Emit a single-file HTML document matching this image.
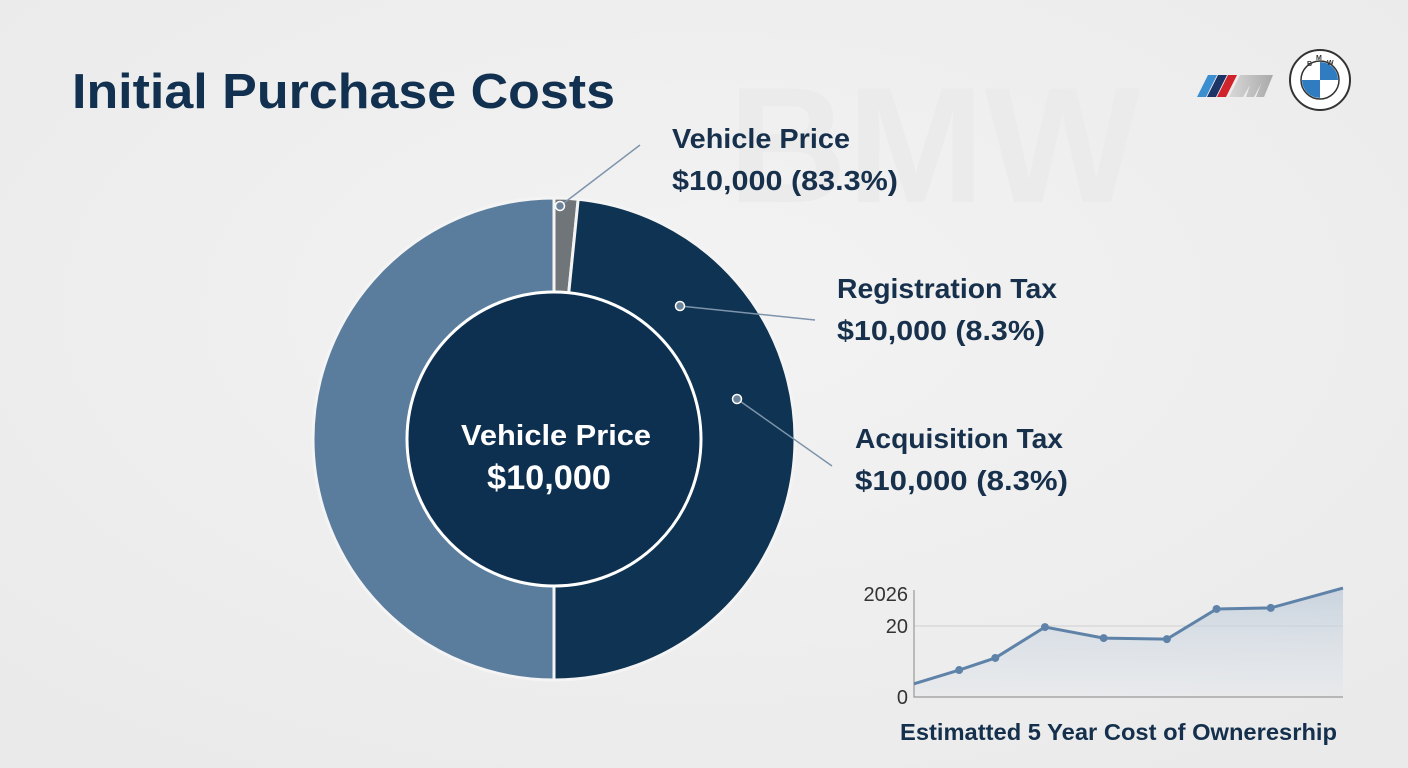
<!DOCTYPE html>
<html><head><meta charset="utf-8"><style>
html,body{margin:0;padding:0;background:#efefef;}
svg{display:block;font-family:"Liberation Sans",Arial,sans-serif;}
</style></head><body>
<svg id="chart" width="1408" height="768" viewBox="0 0 1408 768">
<defs>
<radialGradient id="bg" cx="0.5" cy="0.4" r="0.8"><stop offset="0" stop-color="#f3f3f3"/><stop offset="1" stop-color="#e9e9e9"/></radialGradient>
<linearGradient id="area" x1="0" y1="0" x2="0" y2="1"><stop offset="0" stop-color="#b9c8d8" stop-opacity="0.7"/><stop offset="1" stop-color="#dfe5ec" stop-opacity="0.3"/></linearGradient>
<linearGradient id="mgrad" x1="0" y1="0" x2="1" y2="0"><stop offset="0" stop-color="#d8d8d8"/><stop offset="1" stop-color="#a9a9a9"/></linearGradient>
</defs>
<rect width="1408" height="768" fill="url(#bg)"/>
<text x="728" y="202" font-size="165" font-weight="bold" fill="#ebebeb">BMW</text>
<text x="72" y="108" font-size="49" font-weight="bold" fill="#12304f" textLength="543" lengthAdjust="spacingAndGlyphs">Initial Purchase Costs</text>

<g>
<polygon points="1208,75 1217,75 1206,97 1197,97" fill="#3b8fd0"/>
<polygon points="1218,75 1227,75 1216,97 1207,97" fill="#1d3566"/>
<polygon points="1228,75 1237,75 1226,97 1217,97" fill="#d0242c"/>
<polygon points="1240,75 1273,75 1264,97 1256,97 1261,84 1254,97 1246,97 1250,85 1243,97 1229,97" fill="url(#mgrad)"/>
</g>
<g>
<circle cx="1320" cy="80" r="30" fill="#fff" stroke="#333" stroke-width="2"/>
<circle cx="1320" cy="80" r="19" fill="#fff" stroke="#333" stroke-width="1.5"/>
<path d="M1320,80 L1320,62 A18,18 0 0 1 1338,80 Z" fill="#2f7dc0"/>
<path d="M1320,80 L1302,80 A18,18 0 0 0 1320,98 Z" fill="#2f7dc0"/>
<text x="1307" y="66" font-size="7" font-weight="bold" fill="#333">B</text>
<text x="1316" y="60" font-size="7" font-weight="bold" fill="#333">M</text>
<text x="1327" y="65" font-size="7" font-weight="bold" fill="#333">W</text>
</g>

<g id="donut"></g>
<g id="callouts"></g>

<text x="461" y="445" font-size="29" font-weight="bold" fill="#fff" textLength="190" lengthAdjust="spacingAndGlyphs">Vehicle Price</text>
<text x="487" y="489" font-size="34" font-weight="bold" fill="#fff" textLength="124" lengthAdjust="spacingAndGlyphs">$10,000</text>

<g id="mini"></g>
<text x="900" y="740" font-size="23" font-weight="bold" fill="#14304c" textLength="437" lengthAdjust="spacingAndGlyphs">Estimatted 5 Year Cost of Owneresrhip</text>
</svg>
<script>
const sliceNames=["Acquisition Tax share","Vehicle Price share","Registration Tax share"];
const sliceValues=[1.6,48.4,50];
const sliceColors=["#70757a","#0f3352","#5a7d9e"];

const calloutTitles=["Vehicle Price","Registration Tax","Acquisition Tax"];
const calloutValues=["$10,000 (83.3%)","$10,000 (8.3%)","$10,000 (8.3%)"];

const miniX=[0,1,1.8,2.9,4.2,5.6,6.7,7.9,9.5];
const miniY=[3.7,7.6,11,19.7,16.6,16.3,24.8,25.1,30.7];
const miniTicks=["0","20","2026"];
const miniTickVals=[0,20,29];

const NS="http://www.w3.org/2000/svg";
function mk(t,a,p){const e=document.createElementNS(NS,t);for(const k in a)e.setAttribute(k,a[k]);p.appendChild(e);return e;}

const cx=554,cy=439,R=241,r=147;
const donut=document.getElementById('donut');
const total=sliceValues.reduce((a,b)=>a+b,0);
let acc=0;
function pt(ang,rad){const a=(ang-90)*Math.PI/180;return [cx+rad*Math.cos(a),cy+rad*Math.sin(a)];}
sliceValues.forEach((v,i)=>{
  const a0=acc/total*360,a1=(acc+v)/total*360;acc+=v;
  const p0=pt(a0,R),p1=pt(a1,R),large=(a1-a0)>180?1:0;
  const path=mk('path',{d:`M${cx},${cy} L${p0[0]},${p0[1]} A${R},${R} 0 ${large} 1 ${p1[0]},${p1[1]} Z`,fill:sliceColors[i],stroke:'#f4f4f4','stroke-width':3},donut);
  
  
});
const inner=mk('circle',{cx:cx,cy:cy,r:r,fill:'#0e3050',stroke:'#fff','stroke-width':3},donut);



const cg=document.getElementById('callouts');
const dots=[[560,206],[680,306],[737,399]];
const ends=[[640,145],[815,320],[832,466]];
const textPos=[[672,148],[837,298],[855,448]];
const titleW=[178,220,208];
const valueW=[226,208,213];
calloutTitles.forEach((t,i)=>{
  const l=mk('line',{x1:dots[i][0],y1:dots[i][1],x2:ends[i][0],y2:ends[i][1],stroke:'#7d94ab','stroke-width':1.5},cg);
  
  
  const d=mk('circle',{cx:dots[i][0],cy:dots[i][1],r:4.5,fill:'#6c849b',stroke:'#fff','stroke-width':1.5},cg);
  
  
  const a=mk('text',{x:textPos[i][0],y:textPos[i][1],'font-size':28,'font-weight':'bold',fill:'#17304c',textLength:titleW[i],lengthAdjust:'spacingAndGlyphs'},cg);
  a.textContent=t;
  
  
  const b=mk('text',{x:textPos[i][0],y:textPos[i][1]+42,'font-size':28,'font-weight':'bold',fill:'#17304c',textLength:valueW[i],lengthAdjust:'spacingAndGlyphs'},cg);
  b.textContent=calloutValues[i];
  
  
});

const mg=document.getElementById('mini');
const x0=914,x1=1343,y0=697,unit=3.55,xs=429/9.5;
const X=v=>x0+v*xs, Y=v=>y0-v*unit;
const grid=mk('line',{x1:914,x2:1343,y1:Y(20),y2:Y(20),stroke:'#cfcfcf','stroke-width':1},mg);


let d='M'+X(miniX[0])+','+Y(miniY[0]);
for(let i=1;i<miniX.length;i++)d+=' L'+X(miniX[i])+','+Y(miniY[i]);
const area=mk('path',{d:d+` L${X(miniX[miniX.length-1])},${y0} L${X(miniX[0])},${y0} Z`,fill:'url(#area)'},mg);


const ax=mk('path',{d:`M914,590 L914,${y0} L1343,${y0}`,fill:'none',stroke:'#999','stroke-width':1.2},mg);


const line=mk('path',{d:d,fill:'none',stroke:'#5f83a8','stroke-width':3},mg);


for(let i=1;i<miniX.length-1;i++){
  const c=mk('circle',{cx:X(miniX[i]),cy:Y(miniY[i]),r:4,fill:'#5f83a8'},mg);
  
  
}
miniTicks.forEach((t,i)=>{
  const tx=mk('text',{x:908,y:Y(miniTickVals[i])+7,'font-size':20,fill:'#333','text-anchor':'end'},mg);
  tx.textContent=t;
  
  
});
</script>
</body></html>
